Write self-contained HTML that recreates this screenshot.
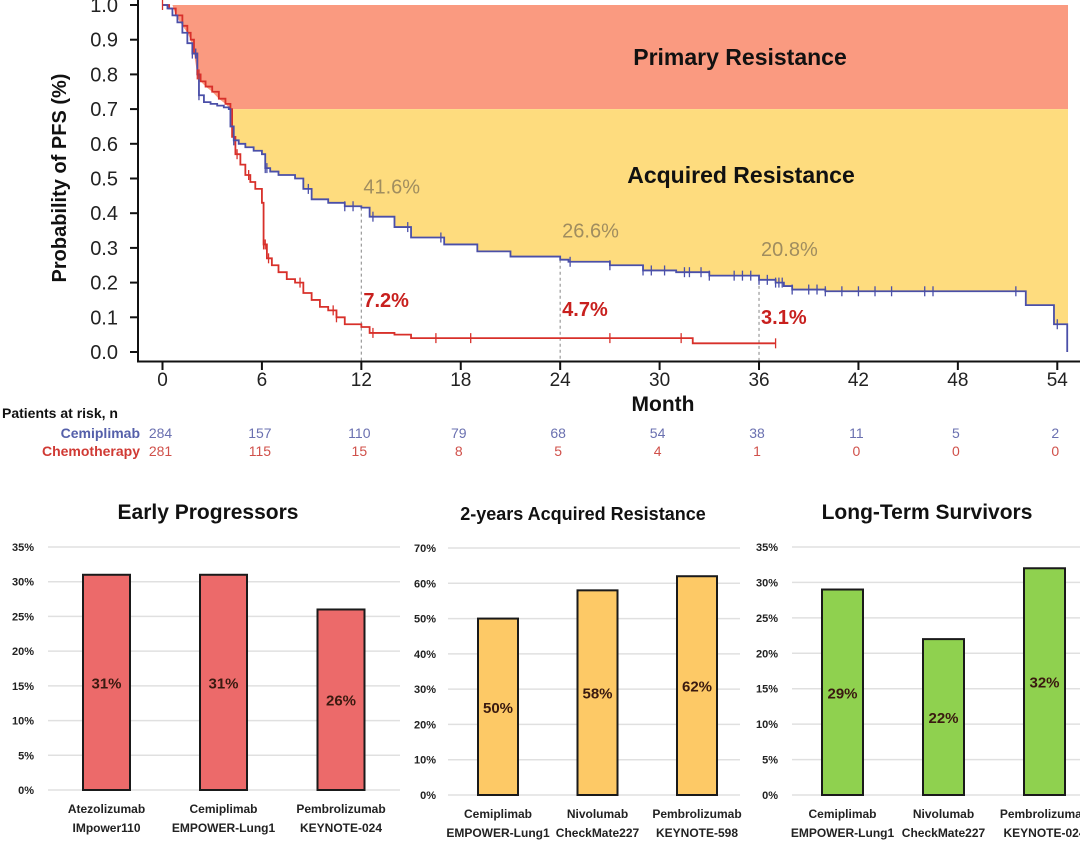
<!DOCTYPE html>
<html><head><meta charset="utf-8">
<style>
html,body{margin:0;padding:0;background:#fff;}
body{width:1080px;height:846px;overflow:hidden;font-family:"Liberation Sans",Arial,sans-serif;}
svg text{font-family:"Liberation Sans",Arial,sans-serif;}
</style></head>
<body>
<svg id="root" width="1080" height="846" viewBox="0 0 1080 846" xmlns="http://www.w3.org/2000/svg">
<g id="km"></g>
<g id="bars"></g>
</svg>
<script>
// ---------- KM data ----------
const kmXTicks = [0,6,12,18,24,30,36,42,48,54];
const kmYTicks = [0.0,0.1,0.2,0.3,0.4,0.5,0.6,0.7,0.8,0.9,1.0];
const blueMonths = [0,0.3,0.6,0.9,1.2,1.5,1.8,2.1,2.2,2.5,2.9,3.3,3.7,4.0,4.1,4.3,4.6,5,5.5,6,6.2,6.5,7,8,8.5,9,10,11,12,12.5,14,15,17,19,21,24,24.5,27,29,31,33,36,37,37.5,38,40,51.8,52.1,53.6,53.8,54.6,54.6];
const blueSurv   = [1,0.99,0.97,0.95,0.92,0.89,0.86,0.80,0.74,0.72,0.715,0.71,0.705,0.70,0.65,0.61,0.60,0.59,0.58,0.57,0.53,0.52,0.51,0.50,0.47,0.44,0.43,0.42,0.416,0.39,0.36,0.33,0.31,0.29,0.275,0.266,0.26,0.25,0.235,0.23,0.22,0.208,0.20,0.19,0.18,0.175,0.175,0.135,0.135,0.08,0.08,0.0];
const redMonths = [0,0.4,0.8,1.2,1.5,1.7,1.9,2.1,2.3,2.6,3.0,3.4,3.8,4.1,4.2,4.4,4.7,5,5.3,5.6,6,6.1,6.3,6.6,7,7.5,8,8.5,9,9.5,10,10.5,11,12,12.5,14,15,24,31.5,32,37];
const redSurv   = [1,0.99,0.97,0.94,0.92,0.90,0.86,0.80,0.78,0.765,0.75,0.73,0.715,0.70,0.62,0.57,0.54,0.51,0.49,0.47,0.43,0.31,0.27,0.25,0.23,0.21,0.2,0.17,0.15,0.13,0.12,0.10,0.08,0.072,0.055,0.05,0.04,0.04,0.04,0.025,0.025];
const blueCensor = [1.8,2,2.2,4.3,6.2,6.3,8.8,11,11.5,12.7,14.8,16.8,24.6,27,29,29.5,30.3,31.5,31.8,32.5,33,34.5,35,35.5,36,36.5,37,37.2,37.4,38,39,39.5,40,41,42,43,44,46,46.5,51.5,54];
const redCensor = [0,2,2.1,2.2,4.5,5.2,6.1,6.2,6.4,8.3,10.3,10.5,12.7,16.5,18.6,27,31.3,37];
const riskBlue = [284,157,110,79,68,54,38,11,5,2];
const riskRed = [281,115,15,8,5,4,1,0,0,0];
const landmarkMonths = [12,24,36];
const landmarkBlue = ["41.6%","26.6%","20.8%"];
const landmarkRed = ["7.2%","4.7%","3.1%"];

// ---------- Bar data ----------
const c1Cats = [["Atezolizumab","IMpower110"],["Cemiplimab","EMPOWER-Lung1"],["Pembrolizumab","KEYNOTE-024"]];
const c1Vals = [31,31,26];
const c1Ticks = [0,5,10,15,20,25,30,35];
const c2Cats = [["Cemiplimab","EMPOWER-Lung1"],["Nivolumab","CheckMate227"],["Pembrolizumab","KEYNOTE-598"]];
const c2Vals = [50,58,62];
const c2Ticks = [0,10,20,30,40,50,60,70];
const c3Cats = [["Cemiplimab","EMPOWER-Lung1"],["Nivolumab","CheckMate227"],["Pembrolizumab","KEYNOTE-024"]];
const c3Vals = [29,22,32];
const c3Ticks = [0,5,10,15,20,25,30,35];

const NS = "http://www.w3.org/2000/svg";
function mk(parent, tag, attrs, text){
  const e = document.createElementNS(NS, tag);
  for (const k in attrs) e.setAttribute(k, attrs[k]);
  if (text !== undefined) e.textContent = text;
  parent.appendChild(e);
  return e;
}
const km = document.getElementById('km');
const X = m => 162.5 + m * 16.57;
const Y = s => 352 - s * 347;
const RIGHT = 1068;

// red band
let pts = [[X(0.6),Y(1)],[RIGHT,Y(1)],[RIGHT,Y(0.7)]];
for (let i = redMonths.length-1; i >= 0; i--) {
  if (redSurv[i] >= 0.7 && redMonths[i] >= 0.6) { pts.push([X(redMonths[i]),Y(redSurv[i])]); }
}
let e = mk(km,'polygon',{points:pts.map(p=>p.join(',')).join(' '),fill:'#fa9a80'});



// yellow band
pts = [[X(4),Y(0.7)],[RIGHT,Y(0.7)]];
let bl = [];
for (let i = 0; i < blueMonths.length; i++) {
  if (blueMonths[i] >= 4) {
    if (i>0 && blueMonths[i-1] >= 4) bl.push([X(blueMonths[i]),Y(blueSurv[i-1])]);
    bl.push([X(blueMonths[i]),Y(Math.min(blueSurv[i],0.7))]);
  }
}
bl.reverse();
pts = pts.concat([[RIGHT,Y(0.08)]]).concat(bl);
e = mk(km,'polygon',{points:pts.map(p=>p.join(',')).join(' '),fill:'#fedc7e'});



e = mk(km,'text',{x:740,y:65,'font-size':23,'font-weight':'bold','text-anchor':'middle',fill:'#111'},'Primary Resistance');


e = mk(km,'text',{x:741,y:183,'font-size':23,'font-weight':'bold','text-anchor':'middle',fill:'#111'},'Acquired Resistance');



landmarkMonths.forEach((m,i)=>{
  const bi = blueMonths.findIndex(v=>v>m);
  const top = Y(blueSurv[Math.max(0,bi-1)]);
  const l = mk(km,'line',{x1:X(m),x2:X(m),y1:top,y2:361,stroke:'#999','stroke-width':1.2,'stroke-dasharray':'3,3'});
  
  
});

function stepPath(ms, ss){
  let d = 'M'+X(ms[0])+','+Y(ss[0]);
  for (let i=1;i<ms.length;i++){
    d += ' L'+X(ms[i])+','+Y(ss[i-1])+' L'+X(ms[i])+','+Y(ss[i]);
  }
  return d;
}
function survAt(ms, ss, m){
  let s = ss[0];
  for (let i=0;i<ms.length;i++){ if (ms[i]<=m) s = ss[i]; }
  return s;
}
e = mk(km,'path',{d:stepPath(redMonths,redSurv),fill:'none',stroke:'#d8302a','stroke-width':1.8});


e = mk(km,'path',{d:stepPath(blueMonths,blueSurv),fill:'none',stroke:'#4a4fa8','stroke-width':1.8});


redCensor.forEach(m=>{
  const y = Y(survAt(redMonths,redSurv,m));
  const c = mk(km,'line',{x1:X(m),x2:X(m),y1:y-5,y2:y+5,stroke:'#d8302a','stroke-width':1.3});
  
  
});
blueCensor.forEach(m=>{
  const y = Y(survAt(blueMonths,blueSurv,m));
  const c = mk(km,'line',{x1:X(m),x2:X(m),y1:y-5,y2:y+5,stroke:'#4a4fa8','stroke-width':1.3});
  
  
});

const blueLabOff = [14,22,24];
const redLabY = [307,316,324];
landmarkMonths.forEach((m,i)=>{
  let t = mk(km,'text',{x:X(m)+2,y:Y(survAt(blueMonths,blueSurv,m))-blueLabOff[i],'font-size':20,fill:'#a08d5f'},landmarkBlue[i]);
  
  
  t = mk(km,'text',{x:X(m)+2,y:redLabY[i],'font-size':20,'font-weight':'bold',fill:'#c8201e'},landmarkRed[i]);
  
  
});

e = mk(km,'path',{d:'M138,0 L138,361.5 L1080,361.5',fill:'none',stroke:'#111','stroke-width':2});


kmYTicks.forEach(v=>{
  const y = Y(v);
  let t = mk(km,'line',{x1:130,x2:138,y1:y,y2:y,stroke:'#111','stroke-width':2});
  
  
  t = mk(km,'text',{x:118,y:y+7,'font-size':20,'text-anchor':'end',fill:'#222'},v.toFixed(1));
  
  
});
kmXTicks.forEach(v=>{
  const x = X(v);
  let t = mk(km,'line',{x1:x,x2:x,y1:361,y2:370,stroke:'#111','stroke-width':2});
  
  
  t = mk(km,'text',{x:x,y:386,'font-size':19,'text-anchor':'middle',fill:'#222'},String(v));
  
  
});
e = mk(km,'text',{x:663,y:411,'font-size':21,'font-weight':'bold','text-anchor':'middle',fill:'#111'},'Month');


e = mk(km,'text',{x:0,y:0,'font-size':20,'font-weight':'bold','text-anchor':'middle',fill:'#111',transform:'translate(66,178) rotate(-90)'},'Probability of PFS (%)');



e = mk(km,'text',{x:2,y:418,'font-size':14,'font-weight':'bold',fill:'#111'},'Patients at risk, n');


e = mk(km,'text',{x:140,y:438,'font-size':14,'font-weight':'bold','text-anchor':'end',fill:'#5560aa'},'Cemiplimab');


e = mk(km,'text',{x:140,y:456,'font-size':14,'font-weight':'bold','text-anchor':'end',fill:'#d03a34'},'Chemotherapy');


kmXTicks.forEach((m,i)=>{
  let t = mk(km,'text',{x:X(m)-2,y:438,'font-size':14,'text-anchor':'middle',fill:'#6a70b0'},String(riskBlue[i]));
  
  
  t = mk(km,'text',{x:X(m)-2,y:456,'font-size':14,'text-anchor':'middle',fill:'#d0504a'},String(riskRed[i]));
  
  
});

// ---------- bar charts ----------
const bars = document.getElementById('bars');
function barChart(cfg){
  const g = mk(bars,'g',{});
  
  
  const maxV = cfg.ticks[cfg.ticks.length-1];
  const yS = v => cfg.y0 - (v/maxV)*(cfg.y0-cfg.yTop);
  let t = mk(g,'text',{x:cfg.titleX,y:cfg.titleY,'font-size':cfg.titleSize,'font-weight':'bold','text-anchor':'middle',fill:'#111'},cfg.title);
  
  
  cfg.ticks.forEach(v=>{
    const y = yS(v);
    let l = mk(g,'line',{x1:cfg.gx0,x2:cfg.gx1,y1:y,y2:y,stroke:'#e0e0e0','stroke-width':1.5});
    
    
    l = mk(g,'text',{x:cfg.labX,y:y+4,'font-size':11,'font-weight':'bold','text-anchor':'end',fill:'#222'},v+'%');
    
    
  });
  cfg.vals.forEach((v,i)=>{
    const cx = cfg.cx[i];
    const top = yS(v);
    let r = mk(g,'rect',{x:cx-cfg.bw/2,y:top,width:cfg.bw,height:cfg.y0-top,fill:cfg.color,stroke:'#1a1a1a','stroke-width':2});
    
    
    r = mk(g,'text',{x:cx,y:(top+cfg.y0)/2+6,'font-size':15,'font-weight':'bold','text-anchor':'middle',fill:'#3a1a10'},v+'%');
    
    
    r = mk(g,'text',{x:cx,y:cfg.y0+23,'font-size':12,'font-weight':'bold','text-anchor':'middle',fill:'#222'},cfg.cats[i][0]);
    
    
    r = mk(g,'text',{x:cx,y:cfg.y0+42,'font-size':12,'font-weight':'bold','text-anchor':'middle',fill:'#222'},cfg.cats[i][1]);
    
    
  });
}
barChart({name:'early-progressors-chart',title:'Early Progressors',titleX:208,titleY:519,titleSize:21,ticks:c1Ticks,vals:c1Vals,cats:c1Cats,
  y0:790,yTop:547,gx0:48,gx1:400,labX:34,cx:[106.5,223.5,341],bw:47,color:'#ec6a6a'});
barChart({name:'acquired-resistance-chart',title:'2-years Acquired Resistance',titleX:583,titleY:520,titleSize:18,ticks:c2Ticks,vals:c2Vals,cats:c2Cats,
  y0:795,yTop:548,gx0:448,gx1:740,labX:436,cx:[498,597.5,697],bw:40,color:'#fdc966'});
barChart({name:'long-term-survivors-chart',title:'Long-Term Survivors',titleX:927,titleY:519,titleSize:21,ticks:c3Ticks,vals:c3Vals,cats:c3Cats,
  y0:795,yTop:547,gx0:792,gx1:1080,labX:778,cx:[842.5,943.5,1044.5],bw:41,color:'#8fd14f'});
</script>
</body></html>
